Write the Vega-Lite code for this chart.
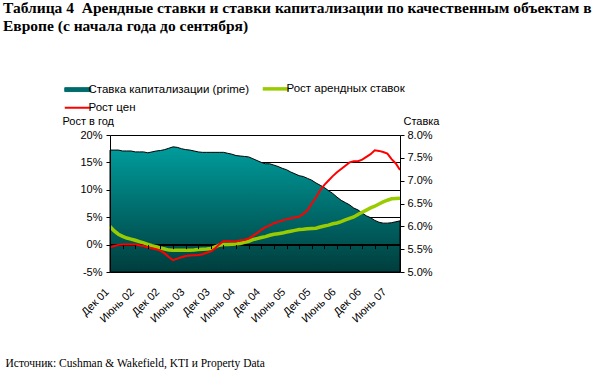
{
  "$schema": "https://vega.github.io/schema/vega-lite/v6.json",
  "width": 290,
  "height": 137,
  "autosize": {"type": "none"},
  "padding": {"left": 110, "top": 135, "right": 207, "bottom": 104},
  "background": "white",
  "title": {
    "text": ["Таблица 4 \u00a0Арендные ставки и ставки капитализации по качественным объектам в", "Европе (с начала года до сентября)"],
    "anchor": "start",
    "frame": "group",
    "font": "Liberation Serif",
    "fontSize": 15.5,
    "fontWeight": "bold",
    "color": "#000",
    "lineHeight": 18,
    "offset": 0,
    "dx": -107,
    "dy": -49
  },
  "data": {
    "values": [
      {"m": "2001-12", "cap": 7.67, "rent": 3.3, "price": -0.45},
      {"m": "2002-01", "cap": 7.67, "rent": 2.5, "price": -0.25},
      {"m": "2002-02", "cap": 7.67, "rent": 1.9, "price": -0.05},
      {"m": "2002-03", "cap": 7.65, "rent": 1.5, "price": 0.0},
      {"m": "2002-04", "cap": 7.65, "rent": 1.2, "price": 0.0},
      {"m": "2002-05", "cap": 7.65, "rent": 1.0, "price": 0.0},
      {"m": "2002-06", "cap": 7.63, "rent": 0.8, "price": 0.0},
      {"m": "2002-07", "cap": 7.63, "rent": 0.55, "price": -0.1},
      {"m": "2002-08", "cap": 7.63, "rent": 0.3, "price": -0.25},
      {"m": "2002-09", "cap": 7.61, "rent": 0.05, "price": -0.5},
      {"m": "2002-10", "cap": 7.63, "rent": -0.2, "price": -0.65},
      {"m": "2002-11", "cap": 7.65, "rent": -0.4, "price": -0.85},
      {"m": "2002-12", "cap": 7.66, "rent": -0.6, "price": -1.1},
      {"m": "2003-01", "cap": 7.68, "rent": -0.8, "price": -1.6},
      {"m": "2003-02", "cap": 7.71, "rent": -1.0, "price": -2.25},
      {"m": "2003-03", "cap": 7.74, "rent": -1.05, "price": -2.85},
      {"m": "2003-04", "cap": 7.73, "rent": -1.05, "price": -2.55},
      {"m": "2003-05", "cap": 7.70, "rent": -1.05, "price": -2.3},
      {"m": "2003-06", "cap": 7.68, "rent": -1.05, "price": -2.1},
      {"m": "2003-07", "cap": 7.67, "rent": -1.05, "price": -2.0},
      {"m": "2003-08", "cap": 7.65, "rent": -1.0, "price": -1.95},
      {"m": "2003-09", "cap": 7.63, "rent": -0.9, "price": -1.9},
      {"m": "2003-10", "cap": 7.62, "rent": -0.85, "price": -1.75},
      {"m": "2003-11", "cap": 7.62, "rent": -0.8, "price": -1.5},
      {"m": "2003-12", "cap": 7.62, "rent": -0.7, "price": -1.25},
      {"m": "2004-01", "cap": 7.62, "rent": -0.4, "price": -0.7},
      {"m": "2004-02", "cap": 7.62, "rent": -0.1, "price": 0.05},
      {"m": "2004-03", "cap": 7.62, "rent": 0.0, "price": 0.6},
      {"m": "2004-04", "cap": 7.60, "rent": 0.0, "price": 0.6},
      {"m": "2004-05", "cap": 7.58, "rent": 0.05, "price": 0.55},
      {"m": "2004-06", "cap": 7.55, "rent": 0.1, "price": 0.55},
      {"m": "2004-07", "cap": 7.54, "rent": 0.2, "price": 0.8},
      {"m": "2004-08", "cap": 7.53, "rent": 0.4, "price": 0.85},
      {"m": "2004-09", "cap": 7.52, "rent": 0.6, "price": 1.1},
      {"m": "2004-10", "cap": 7.48, "rent": 0.9, "price": 1.6},
      {"m": "2004-11", "cap": 7.44, "rent": 1.1, "price": 2.1},
      {"m": "2004-12", "cap": 7.40, "rent": 1.3, "price": 2.7},
      {"m": "2005-01", "cap": 7.37, "rent": 1.45, "price": 3.2},
      {"m": "2005-02", "cap": 7.37, "rent": 1.7, "price": 3.5},
      {"m": "2005-03", "cap": 7.34, "rent": 1.9, "price": 3.9},
      {"m": "2005-04", "cap": 7.31, "rent": 2.0, "price": 4.15},
      {"m": "2005-05", "cap": 7.27, "rent": 2.1, "price": 4.4},
      {"m": "2005-06", "cap": 7.24, "rent": 2.3, "price": 4.6},
      {"m": "2005-07", "cap": 7.19, "rent": 2.45, "price": 4.8},
      {"m": "2005-08", "cap": 7.15, "rent": 2.6, "price": 4.95},
      {"m": "2005-09", "cap": 7.11, "rent": 2.75, "price": 5.1},
      {"m": "2005-10", "cap": 7.09, "rent": 2.8, "price": 5.6},
      {"m": "2005-11", "cap": 7.05, "rent": 2.9, "price": 6.3},
      {"m": "2005-12", "cap": 7.01, "rent": 2.95, "price": 7.5},
      {"m": "2006-01", "cap": 6.95, "rent": 3.0, "price": 8.6},
      {"m": "2006-02", "cap": 6.90, "rent": 3.2, "price": 9.9},
      {"m": "2006-03", "cap": 6.85, "rent": 3.4, "price": 10.9},
      {"m": "2006-04", "cap": 6.78, "rent": 3.55, "price": 11.7},
      {"m": "2006-05", "cap": 6.72, "rent": 3.8, "price": 12.5},
      {"m": "2006-06", "cap": 6.64, "rent": 3.95, "price": 13.2},
      {"m": "2006-07", "cap": 6.57, "rent": 4.2, "price": 13.8},
      {"m": "2006-08", "cap": 6.52, "rent": 4.5, "price": 14.4},
      {"m": "2006-09", "cap": 6.47, "rent": 4.8, "price": 15.0},
      {"m": "2006-10", "cap": 6.40, "rent": 5.05, "price": 15.2},
      {"m": "2006-11", "cap": 6.36, "rent": 5.5, "price": 15.2},
      {"m": "2006-12", "cap": 6.29, "rent": 5.9, "price": 15.5},
      {"m": "2007-01", "cap": 6.23, "rent": 6.3, "price": 16.0},
      {"m": "2007-02", "cap": 6.19, "rent": 6.7, "price": 16.5},
      {"m": "2007-03", "cap": 6.13, "rent": 7.0, "price": 17.2},
      {"m": "2007-04", "cap": 6.09, "rent": 7.4, "price": 17.1},
      {"m": "2007-05", "cap": 6.07, "rent": 7.8, "price": 16.9},
      {"m": "2007-06", "cap": 6.07, "rent": 8.1, "price": 16.6},
      {"m": "2007-07", "cap": 6.08, "rent": 8.35, "price": 15.6},
      {"m": "2007-08", "cap": 6.10, "rent": 8.4, "price": 14.8},
      {"m": "2007-09", "cap": 6.12, "rent": 8.45, "price": 13.6}
    ]
  },
  "layer": [
    {
      "mark": {
        "type": "area",
        "fill": {"gradient": "linear", "x1": 0, "y1": 0, "x2": 0, "y2": 1, "stops": [{"offset": 0, "color": "#009c9c"}, {"offset": 1, "color": "#003d3d"}]},
        "stroke": "#000",
        "strokeWidth": 1
      },
      "encoding": {
        "x": {
          "field": "m", "type": "ordinal",
          "scale": {"type": "point", "padding": 0},
          "axis": {
            "orient": "bottom", "offset": -27.4,
            "values": ["2001-12","2002-03","2002-06","2002-09","2002-12","2003-03","2003-06","2003-09","2003-12","2004-03","2004-06","2004-09","2004-12","2005-03","2005-06","2005-09","2005-12","2006-03","2006-06","2006-09","2006-12","2007-03","2007-06","2007-09"],
            "labels": false, "domain": false, "ticks": true, "tickSize": 4, "tickColor": "#000",
            "grid": false, "title": null, "zindex": 1
          }
        },
        "y": {
          "field": "cap", "type": "quantitative",
          "scale": {"domain": [5, 8], "zero": false, "nice": false},
          "axis": {
            "orient": "right", "values": [5, 5.5, 6, 6.5, 7, 7.5, 8],
            "labelExpr": "format(datum.value, '.1f') + '%'",
            "tickSize": 4, "labelPadding": 3, "grid": false,
            "title": "Ставка", "titleAngle": 0, "titleAlign": "left", "titleBaseline": "alphabetic",
            "titleX": 3, "titleY": -11, "zindex": 1
          }
        },
        "y2": {"datum": 5}
      }
    },
    {
      "mark": {"type": "rule", "color": "#000", "strokeWidth": 1},
      "encoding": {
        "y": {
          "datum": 0, "type": "quantitative",
          "scale": {"domain": [-5, 20], "zero": false, "nice": false},
          "axis": {
            "orient": "left", "values": [-5, 0, 5, 10, 15, 20],
            "grid": true, "gridColor": "#000", "gridOpacity": 1,
            "domain": false, "ticks": false, "labels": false, "title": null, "zindex": 0
          }
        }
      }
    },
    {
      "mark": {"type": "line", "strokeWidth": 3.5},
      "encoding": {
        "x": {
          "field": "m", "type": "ordinal",
          "scale": {"type": "point", "padding": 0},
          "axis": {
            "orient": "bottom",
            "values": ["2001-12","2002-06","2002-12","2003-06","2003-12","2004-06","2004-12","2005-06","2005-12","2006-06","2006-12","2007-06"],
            "labelExpr": "(substring(datum.value, 5, 7) == '12' ? 'Дек ' : 'Июнь ') + substring(datum.value, 2, 4)",
            "labelAngle": -45, "labelAlign": "right", "labelBaseline": "middle",
            "labelFontSize": 11,
            "labelPadding": 18, "labelOverlap": false, "labelOffset": -3,
            "ticks": false, "domain": false, "grid": false,
            "title": "Источник: Cushman & Wakefield, KTI и Property Data",
            "titleFont": "Liberation Serif", "titleFontSize": 11.5, "titleFontWeight": "normal",
            "titleAlign": "left", "titleBaseline": "alphabetic", "titleAngle": 0,
            "titleX": -105, "titleY": 94, "zindex": 1,
            "encode": {"labels": {"update": {
              "dx": {"signal": "datum.value === '2001-12' ? -6 : 0"},
              "dy": {"signal": "datum.value === '2001-12' ? -6 : 0"}
            }}}
          }
        },
        "y": {
          "field": "rent", "type": "quantitative",
          "scale": {"domain": [-5, 20], "zero": false, "nice": false},
          "axis": {
            "orient": "left", "values": [-5, 0, 5, 10, 15, 20],
            "labelExpr": "datum.value + '%'",
            "tickSize": 4, "labelPadding": 4, "grid": false,
            "title": "Рост в год", "titleAngle": 0, "titleAlign": "left", "titleBaseline": "alphabetic",
            "titleX": -48, "titleY": -11, "zindex": 1
          }
        },
        "color": {
          "datum": "Рост арендных ставок", "type": "nominal",
          "scale": {
            "domain": ["Ставка капитализации (prime)", "Рост арендных ставок", "Рост цен"],
            "range": ["#006b6b", "#99cc00", "#ff0000"]
          },
          "legend": {
            "orient": "none", "legendX": -38, "legendY": -52,
            "direction": "horizontal", "columns": 2, "title": null,
            "labelFont": "Liberation Sans", "labelFontSize": 11.5, "labelColor": "#000", "labelLimit": 0,
            "symbolSize": 676, "symbolType": "stroke", "labelOffset": 5,
            "columnPadding": 5, "rowPadding": 5, "padding": 0,
            "encode": {
              "symbols": {
                "update": {
                  "shape": {"signal": "datum.value === 'Ставка капитализации (prime)' ? 'M-1,-0.15H1V0.15H-1Z' : 'stroke'"},
                  "fill": {"signal": "datum.value === 'Ставка капитализации (prime)' ? '#006b6b' : 'transparent'"},
                  "stroke": {"signal": "datum.value === 'Ставка капитализации (prime)' ? '#000000' : (datum.value === 'Рост цен' ? '#ff0000' : '#99cc00')"},
                  "strokeWidth": {"signal": "datum.value === 'Ставка капитализации (prime)' ? 1 : (datum.value === 'Рост цен' ? 2 : 3.5)"},
                  "opacity": {"value": 1}
                }
              }
            }
          }
        }
      }
    },
    {
      "mark": {"type": "line", "strokeWidth": 2},
      "encoding": {
        "x": {"field": "m", "type": "ordinal", "scale": {"type": "point", "padding": 0}, "axis": null},
        "y": {"field": "price", "type": "quantitative", "scale": {"domain": [-5, 20], "zero": false, "nice": false}, "axis": null},
        "color": {"datum": "Рост цен", "type": "nominal"}
      }
    }
  ],
  "resolve": {
    "scale": {"y": "independent"},
    "axis": {"x": "independent", "y": "independent"}
  },
  "config": {
    "view": {"stroke": null},
    "font": "Liberation Sans",
    "axis": {
      "labelFont": "Liberation Sans", "labelFontSize": 11, "labelColor": "#000",
      "titleFont": "Liberation Sans", "titleFontSize": 11, "titleFontWeight": "normal", "titleColor": "#000",
      "domainColor": "#000", "tickColor": "#000", "gridColor": "#000"
    }
  }
}
